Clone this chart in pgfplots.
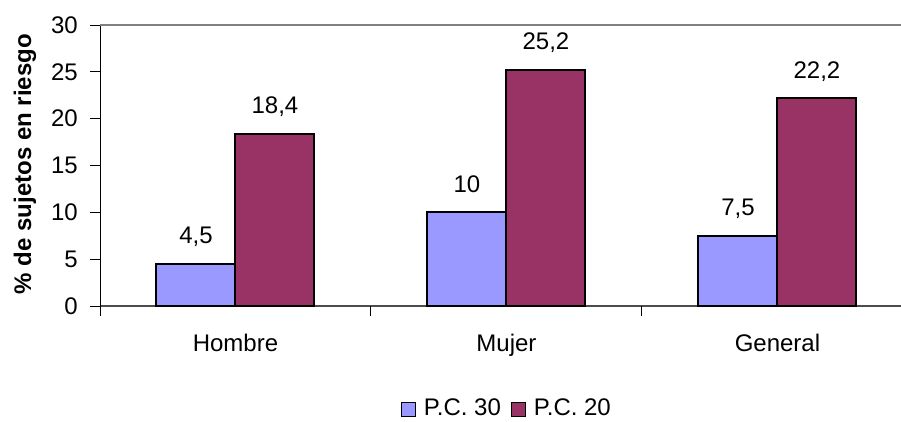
\documentclass[border=0pt]{standalone}
\usepackage{fontspec}
\setmainfont{Liberation Sans}
\usepackage{pgfplots}
\pgfplotsset{compat=1.18}
\definecolor{pcblue}{HTML}{9999FF}
\definecolor{pcred}{HTML}{993366}
\newcommand{\bigf}{\fontsize{24bp}{28bp}\selectfont}
\begin{document}
\begin{tikzpicture}[x=1bp,y=1bp, every node/.append style={font=\bigf}]
\useasboundingbox (0,0) rectangle (901,421);
\begin{axis}[
  at={(100bp,115bp)}, anchor=south west,
  scale only axis, width=801bp, height=281bp,
  xmin=-0.5, xmax=2.456, ymin=0, ymax=30,
  ybar=0pt, bar width=79bp,
  axis x line*=bottom, axis y line*=left,
  x axis line style={draw=black!70, line width=1.5pt},
  y axis line style={draw=black, line width=1pt},
  /pgf/number format/assume math mode=true,
  /pgf/number format/use comma,
  tick label style={font=\bigf},
  label style={font=\bigf\bfseries},
  ytick={0,5,...,30},
  tick align=outside, major tick length=10bp,
  ytick style={black, line width=1pt},
  xtick={0,1,2}, xticklabels={Hombre,Mujer,General},
  xtick style={draw=none},
  extra x ticks={-0.5,0.5,1.5}, extra x tick labels={},
  extra x tick style={xtick style={draw=black, line width=1pt}},
  xticklabel style={anchor=base, inner sep=0pt, yshift=-35bp},
  yticklabel style={anchor=east, inner sep=0pt, xshift=-12bp},
  ylabel={\% de sujetos en riesgo},
  ylabel style={at={(axis description cs:-0.0861,0.505)}, anchor=base},
  nodes near coords={\pgfmathprintnumber{\pgfplotspointmeta}},
  every node near coord/.append style={anchor=base, inner sep=0pt, yshift=20bp, black, font=\bigf},
  legend columns=2,
  legend style={draw=none, font=\bigf, inner sep=0pt, at={(axis description cs:0.508,-0.362)}, anchor=center,
    /tikz/every odd column/.append style={column sep=6bp},
    /tikz/every even column/.append style={column sep=8bp}},
  legend image code/.code={\draw[#1, draw=black, line width=1pt] (0bp,-9bp) rectangle (14bp,5bp);},
]
\addplot[fill=pcblue, draw=black, line width=2bp] coordinates {(0,4.5) (1,10) (2,7.5)};
\addplot[fill=pcred, draw=black, line width=2bp] coordinates {(0,18.4) (1,25.2) (2,22.2)};
\legend{P.C. 30, P.C. 20}
\draw[black!50, line width=1.5pt] (axis cs:-0.5,30) -- (axis cs:2.456,30);
\end{axis}
\end{tikzpicture}
\end{document}
